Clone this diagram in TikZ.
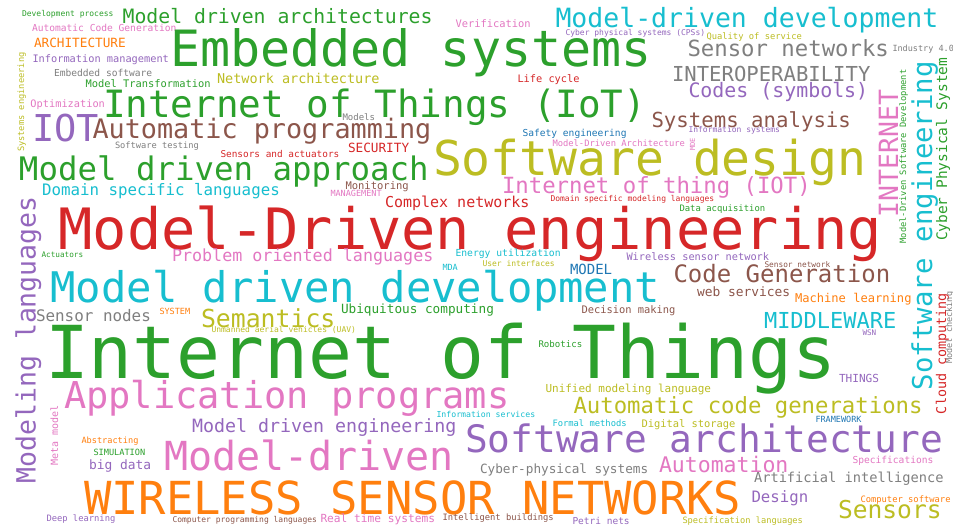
\documentclass[tikz,border=0pt]{standalone}
\usepackage{fontspec}
\newfontfamily\wc{DejaVu Sans Mono}
\definecolor{cG}{HTML}{2CA02C}
\definecolor{cR}{HTML}{D62728}
\definecolor{cC}{HTML}{17BECF}
\definecolor{cO}{HTML}{BCBD22}
\definecolor{cP}{HTML}{9467BD}
\definecolor{cB}{HTML}{8C564B}
\definecolor{cK}{HTML}{E377C2}
\definecolor{cY}{HTML}{7F7F7F}
\definecolor{cN}{HTML}{FF7F0E}
\definecolor{cU}{HTML}{1F77B4}
\tikzset{
  wd/.style={anchor=base west, inner sep=0pt, outer sep=0pt},
  fz/.style={font=\wc\fontsize{#1}{#1}\selectfont},
  vert/.style={rotate=90}
}
\begin{document}
\begin{tikzpicture}[x=1pt,y=-1pt]
\useasboundingbox[fill=white] (0,0) rectangle (953,529);
% horizontal words
\node[wd,fz=8,text=cG] (w1) at (22,17) {Development process};
\node[wd,fz=19.8,text=cG] (w2) at (122.6,24) {Model driven architectures};
\node[wd,fz=9.6,text=cK] (w3) at (32,32) {Automatic Code Generation};
\node[wd,fz=12.7,text=cN] (w4) at (34,48) {ARCHITECTURE};
\node[wd,fz=10.3,text=cP] (w5) at (32.5,63) {Information management};
\node[wd,fz=9.6,text=cY] (w6) at (54,77) {Embedded software};
\node[wd,fz=10.4,text=cG] (w7) at (85.5,88) {Model Transformation};
\node[wd,fz=13.5,text=cO] (w8) at (217,84) {Network architecture};
\node[wd,fz=10.3,text=cK] (w9) at (30.5,108) {Optimization};
\node[wd,fz=37,text=cP] (w10) at (32,142) {IOT};
\node[wd,fz=26.8,text=cB] (w11) at (92.5,139) {Automatic programming};
\node[wd,fz=8.7,text=cY] (w12) at (115,149) {Software testing};
\node[wd,fz=9.4,text=cR] (w13) at (220.5,158) {Sensors and actuators};
\node[wd,fz=37.6,text=cG] (w14) at (103,118) {Internet of Things (IoT)};
\node[wd,fz=32.4,text=cG] (w15) at (19,181) {Model driven approach};
\node[wd,fz=15.8,text=cC] (w16) at (42,196) {Domain specific languages};
\node[wd,fz=9,text=cY] (w17) at (342.5,121) {Models};
\node[wd,fz=12.7,text=cR] (w18) at (348,153) {SECURITY};
\node[wd,fz=10.4,text=cK] (w19) at (455.5,28) {Verification};
\node[wd,fz=50,text=cG] (w20) at (170,67) {Embedded systems};
\node[wd,fz=26.5,text=cC] (w21) at (555.5,28) {Model-driven development};
\node[wd,fz=8,text=cP] (w22) at (565.5,36) {Cyber physical systems (CPSs)};
\node[wd,fz=8.8,text=cO] (w23) at (706.5,40) {Quality of service};
\node[wd,fz=22.3,text=cY] (w24) at (687.5,57) {Sensor networks};
\node[wd,fz=8.5,text=cY] (w25) at (892.5,52) {Industry 4.0};
\node[wd,fz=20.6,text=cY] (w26) at (672,82) {INTEROPERABILITY};
\node[wd,fz=19.9,text=cP] (w27) at (688.5,98) {Codes (symbols)};
\node[wd,fz=10.3,text=cR] (w28) at (517.5,83) {Life cycle};
\node[wd,fz=20.7,text=cB] (w29) at (651.5,128) {Systems analysis};
\node[wd,fz=8,text=cP] (w30) at (688.5,133) {Information systems};
\node[wd,fz=9.6,text=cU] (w31) at (522.5,137) {Safety engineering};
\node[wd,fz=8.8,text=cK] (w32) at (552.5,147) {Model-Driven Architecture};
\node[wd,fz=48,text=cO] (w33) at (433,176) {Software design};
\node[wd,fz=22.3,text=cK] (w34) at (502,194) {Internet of thing (IOT)};
\node[wd,fz=15,text=cR] (w35) at (385,208) {Complex networks};
\node[wd,fz=10.5,text=cB] (w36) at (345.5,190) {Monitoring};
\node[wd,fz=8.5,text=cK] (w37) at (330.5,197) {MANAGEMENT};
\node[wd,fz=8,text=cR] (w38) at (550.5,202) {Domain specific modeling languages};
\node[wd,fz=8.9,text=cG] (w39) at (679.5,212) {Data acquisition};
\node[wd,fz=57,text=cR] (w40) at (58.5,250) {Model-Driven engineering};
\node[wd,fz=7.7,text=cG] (w41) at (41.5,258) {Actuators};
\node[wd,fz=16.7,text=cK] (w42) at (172,262) {Problem oriented languages};
\node[wd,fz=9.7,text=cC] (w43) at (455.5,257) {Energy utilization};
\node[wd,fz=8,text=cO] (w44) at (482.5,267) {User interfaces};
\node[wd,fz=8.5,text=cC] (w45) at (442.5,271) {MDA};
\node[wd,fz=14,text=cU] (w46) at (570,275) {MODEL};
\node[wd,fz=10.3,text=cP] (w47) at (626.5,261) {Wireless sensor network};
\node[wd,fz=7.8,text=cB] (w48) at (764.5,268) {Sensor network};
\node[wd,fz=24,text=cB] (w49) at (673.5,283) {Code Generation};
\node[wd,fz=12.9,text=cB] (w50) at (697,297) {web services};
\node[wd,fz=12.1,text=cN] (w51) at (795,303) {Machine learning};
\node[wd,fz=42.2,text=cC] (w52) at (50.5,303) {Model driven development};
\node[wd,fz=15.9,text=cY] (w53) at (36,322) {Sensor nodes};
\node[wd,fz=8.5,text=cN] (w54) at (159.5,315) {SYSTEM};
\node[wd,fz=24.8,text=cO] (w55) at (201,327) {Semantics};
\node[wd,fz=8,text=cO] (w56) at (211.5,333) {Unmanned aerial vehicles (UAV)};
\node[wd,fz=12.7,text=cG] (w57) at (341,313) {Ubiquitous computing};
\node[wd,fz=10.4,text=cB] (w58) at (581.5,313) {Decision making};
\node[wd,fz=22,text=cC] (w59) at (764,328) {MIDDLEWARE};
\node[wd,fz=7.6,text=cP] (w60) at (862.5,335) {WSN};
\node[wd,fz=73,text=cG] (w61) at (45,378) {Internet of Things};
\node[wd,fz=9.1,text=cG] (w62) at (538.5,348) {Robotics};
\node[wd,fz=11.1,text=cP] (w63) at (839,382) {THINGS};
\node[wd,fz=37,text=cK] (w64) at (64,408) {Application programs};
\node[wd,fz=11,text=cO] (w65) at (545.5,392) {Unified modeling language};
\node[wd,fz=22.3,text=cO] (w66) at (573.5,413) {Automatic code generations};
\node[wd,fz=8.2,text=cC] (w67) at (436.5,417) {Information services};
\node[wd,fz=8.8,text=cC] (w68) at (552.5,426) {Formal methods};
\node[wd,fz=10.4,text=cO] (w69) at (641.5,427) {Digital storage};
\node[wd,fz=8.5,text=cU] (w70) at (815.5,422) {FRAMEWORK};
\node[wd,fz=18.3,text=cP] (w71) at (192,432) {Model driven engineering};
\node[wd,fz=37.8,text=cP] (w72) at (465,452) {Software architecture};
\node[wd,fz=8.6,text=cN] (w73) at (81.5,443) {Abstracting};
\node[wd,fz=8.6,text=cG] (w74) at (93.5,455) {SIMULATION};
\node[wd,fz=12.9,text=cP] (w75) at (89,469) {big data};
\node[wd,fz=40,text=cK] (w76) at (164.5,470) {Model-driven};
\node[wd,fz=12.7,text=cY] (w77) at (480,473) {Cyber-physical systems};
\node[wd,fz=21.5,text=cK] (w78) at (659,472) {Automation};
\node[wd,fz=9.6,text=cK] (w79) at (852.5,463) {Specifications};
\node[wd,fz=13.7,text=cY] (w80) at (754,482) {Artificial intelligence};
\node[wd,fz=45.5,text=cN] (w81) at (84,514) {WIRELESS SENSOR NETWORKS};
\node[wd,fz=15.7,text=cP] (w82) at (751.5,502) {Design};
\node[wd,fz=8.8,text=cN] (w83) at (860.5,502) {Computer software};
\node[wd,fz=24.6,text=cO] (w84) at (838,518) {Sensors};
\node[wd,fz=8.7,text=cO] (w85) at (682.5,523) {Specification languages};
\node[wd,fz=8.8,text=cP] (w86) at (46.5,521) {Deep learning};
\node[wd,fz=8,text=cB] (w87) at (172.5,522) {Computer programming languages};
\node[wd,fz=11.2,text=cK] (w88) at (320.5,522) {Real time systems};
\node[wd,fz=8.8,text=cB] (w89) at (442.5,520) {Intelligent buildings};
\node[wd,fz=9.5,text=cP] (w90) at (572.5,524) {Petri nets};
% vertical words
\node[wd,vert,fz=8.7,text=cO] (v1) at (24,152) {Systems engineering};
\node[wd,vert,fz=7,text=cK] (v2) at (695,150.5) {MDE};
\node[wd,vert,fz=26.5,text=cK] (v3) at (898,217.5) {INTERNET};
\node[wd,vert,fz=27.3,text=cC] (v4) at (932,390) {Software engineering};
\node[wd,vert,fz=8.75,text=cG] (v5) at (906,243.5) {Model-Driven Software Development};
\node[wd,vert,fz=14.5,text=cG] (v6) at (947,241) {Cyber Physical System};
\node[wd,vert,fz=13.4,text=cR] (v7) at (946,414) {Cloud computing};
\node[wd,vert,fz=8.5,text=cY] (v8) at (952,363.5) {Model checking};
\node[wd,vert,fz=10,text=cK] (v9) at (58,465.5) {Meta model};
\node[wd,vert,fz=26.5,text=cP] (v10) at (35.5,483.5) {Modeling languages};
\end{tikzpicture}
\end{document}
